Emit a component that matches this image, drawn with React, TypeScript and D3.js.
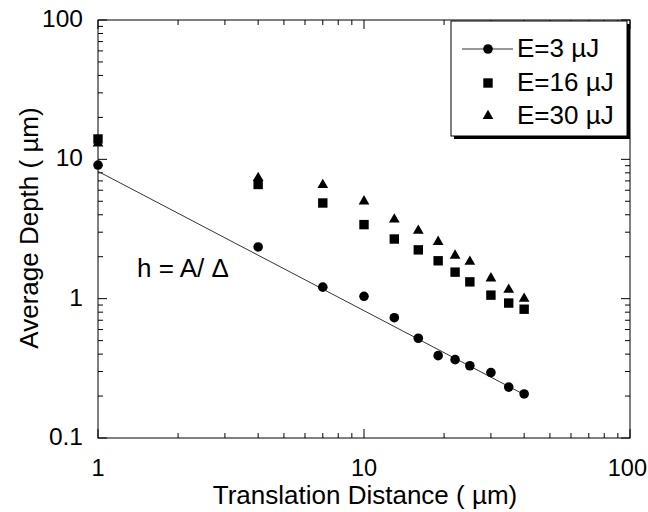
import React from 'react';
import * as d3 from 'd3';

// translation distance (µm)
const distances = [1, 4, 7, 10, 13, 16, 19, 22, 25, 30, 35, 40];
// average depth (µm) per pulse energy
const depth3uJ = [9.1, 2.35, 1.21, 1.04, 0.73, 0.52, 0.39, 0.365, 0.33, 0.295, 0.232, 0.207];
const depth16uJ = [14, 6.6, 4.86, 3.4, 2.68, 2.24, 1.87, 1.55, 1.32, 1.06, 0.93, 0.84];
const depth30uJ = [13, 7.35, 6.55, 5.0, 3.7, 3.08, 2.56, 2.04, 1.84, 1.4, 1.16, 1.0];
// fit h = A / Δ, end points
const fitX = [1, 40];
const fitY = [8.2, 0.205];

const legendLabels = ['E=3 \u00b5J', 'E=16 \u00b5J', 'E=30 \u00b5J'];
const xTickLabels = ['1', '10', '100'];
const yTickLabels = ['0.1', '1', '10', '100'];

const W = 648;
const H = 512;
const margin = { top: 20, right: 18, bottom: 74, left: 98 };
const FONT = 'Arial, "Liberation Sans", sans-serif';
const X_TICK_FS = 23.5;

export default function App() {
  const innerW = W - margin.left - margin.right;
  const innerH = H - margin.top - margin.bottom;

  const x = d3.scaleLog().domain([1, 100]).range([0, innerW]);
  const y = d3.scaleLog().domain([0.1, 100]).range([innerH, 0]);

  const xTicks = x.ticks();
  const yTicks = y.ticks();
  const isMajor = (v: number) => Math.abs(Math.log10(v) - Math.round(Math.log10(v))) < 1e-9;

  const line = d3.line<number>()
    .x((_, i) => x(fitX[i]))
    .y((d) => y(d));

  const tri = d3.symbol().type(d3.symbolTriangle).size(50)() as string;

  // keep the last label inside the page (digits ~0.556em wide)
  const xLabelPos = (l: string) => {
    const half = (l.length * 0.556 * X_TICK_FS) / 2;
    return Math.min(x(+l), W - margin.left - 1 - half);
  };

  const legendX = 451;
  const legendY = 21;
  const legendW = 176;
  const legendH = 115;
  const rowY = [49, 83, 116];

  return (
    <svg width={W} height={H} style={{ position: 'absolute', left: 0, top: 0, background: '#fff' }} fontFamily={FONT}>
      <g transform={`translate(${margin.left},${margin.top})`}>
        {/* frame */}
        <rect x={0} y={0} width={innerW} height={innerH} fill="none" stroke="#000" strokeWidth={1} />

        {/* x ticks, bottom and top, pointing inward */}
        {xTicks.map((t, i) => {
          const len = isMajor(t) ? 9 : 5;
          const px = x(t);
          return (
            <g key={`xt${i}`}>
              <line x1={px} x2={px} y1={innerH} y2={innerH - len} stroke="#000" />
              <line x1={px} x2={px} y1={0} y2={len} stroke="#000" />
            </g>
          );
        })}
        {/* y ticks, left and right */}
        {yTicks.map((t, i) => {
          const len = isMajor(t) ? 9 : 5;
          const py = y(t);
          return (
            <g key={`yt${i}`}>
              <line x1={0} x2={len} y1={py} y2={py} stroke="#000" />
              <line x1={innerW} x2={innerW - len} y1={py} y2={py} stroke="#000" />
            </g>
          );
        })}

        {/* tick labels */}
        {xTickLabels.map((l) => (
          <text key={l} x={xLabelPos(l)} y={innerH + 38} textAnchor="middle" fontSize={X_TICK_FS} fill="#000">{l}</text>
        ))}
        {yTickLabels.map((l) => (
          <text key={l} x={-15} y={y(+l) + 7} textAnchor="end" fontSize={24.5} fill="#000">{l}</text>
        ))}

        {/* axis titles */}
        <text x={innerW / 2 + 1} y={innerH + 66} textAnchor="middle" fontSize={26} fill="#000">Translation Distance ( {'\u00b5'}m)</text>
        <text transform={`translate(${-60},${228 - margin.top}) rotate(-90)`} textAnchor="middle" fontSize={26} fill="#000">Average Depth ( {'\u00b5'}m)</text>

        {/* fit line */}
        <path d={line(fitY) ?? ''} fill="none" stroke="#333" strokeWidth={1} />
        <text x={39} y={257} fontSize={26} fill="#000">h = A/ {'\u0394'}</text>

        {/* data */}
        {distances.map((d, i) => (
          <circle key={`c${i}`} cx={x(d)} cy={y(depth3uJ[i])} r={4.8} fill="#000" />
        ))}
        {distances.map((d, i) => (
          <rect key={`s${i}`} x={x(d) - 4.7} y={y(depth16uJ[i]) - 4.7} width={9.4} height={9.4} fill="#000" />
        ))}
        {distances.map((d, i) => (
          <path key={`t${i}`} d={tri} transform={`translate(${x(d)},${y(depth30uJ[i])})`} fill="#000" />
        ))}
      </g>

      {/* legend */}
      <rect x={legendX + 3} y={legendY + 3} width={legendW} height={legendH} fill="#000" />
      <rect x={legendX} y={legendY} width={legendW} height={legendH} fill="#fff" stroke="#000" strokeWidth={1} />
      <line x1={462} x2={513} y1={rowY[0]} y2={rowY[0]} stroke="#333" />
      <circle cx={488} cy={rowY[0]} r={4.8} fill="#000" />
      <rect x={488 - 4.7} y={rowY[1] - 4.7} width={9.4} height={9.4} fill="#000" />
      <path d={tri} transform={`translate(488,${rowY[2]})`} fill="#000" />
      {legendLabels.map((l, i) => (
        <text key={l} x={517} y={rowY[i] + 8} fontSize={26} fill="#000">{l}</text>
      ))}
    </svg>
  );
}
